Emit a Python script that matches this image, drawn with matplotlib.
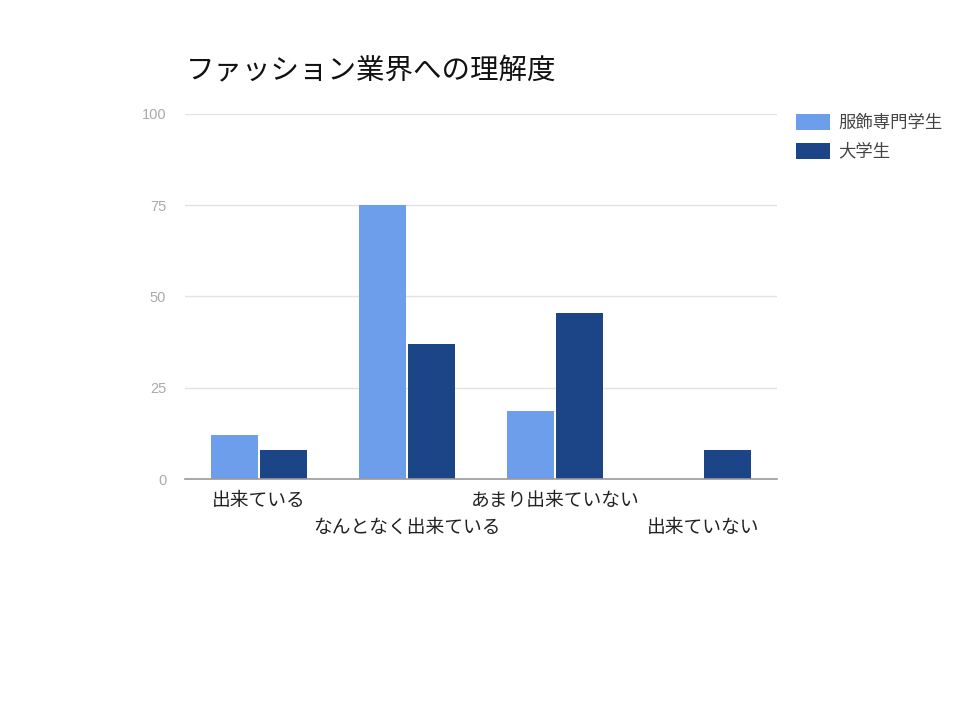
import numpy as np
import matplotlib
matplotlib.use("Agg")
import matplotlib.pyplot as plt

plt.rcParams['font.family'] = ['Noto Sans CJK JP', 'DejaVu Sans']

# --- data ---
categories = ["出来ている", "なんとなく出来ている", "あまり出来ていない", "出来ていない"]
series_names = ["服飾専門学生", "大学生"]
senmon = [12, 75, 18.6, 0]
daigaku = [8, 37, 45.6, 8]
y_ticks = [0, 25, 50, 75, 100]

colors = ["#6d9eeb", "#1c4587"]

fig = plt.figure(figsize=(9.6, 7.2), dpi=100)
ax = fig.add_axes([0.1927, 0.3347, 0.6167, 0.507])

x = np.arange(len(categories))
w = 0.32
ax.bar(x - w / 2 - 0.005, senmon, width=w, color=colors[0], label=series_names[0], zorder=3)
ax.bar(x + w / 2 + 0.005, daigaku, width=w, color=colors[1], label=series_names[1], zorder=3)

ax.set_xlim(-0.5, len(categories) - 0.5)
ax.set_ylim(0, 100)
ax.set_yticks(y_ticks)
ax.set_yticklabels([str(t) for t in y_ticks], color="#aaaaaa", fontsize=10.5,
                   family="Liberation Sans")
ax.grid(axis="y", color="#e3e3e3", linewidth=1, zorder=0)
ax.tick_params(axis="y", length=0, pad=13.5)
ax.tick_params(axis="x", length=0)

for s in ["top", "right", "left"]:
    ax.spines[s].set_visible(False)
ax.spines["bottom"].set_color("#999999")
ax.spines["bottom"].set_linewidth(1.2)
ax.spines["bottom"].set_zorder(4)

# category labels in two staggered rows
ax.set_xticks([])
for i, c in enumerate(categories):
    yy = -0.03 if i % 2 == 0 else -0.104
    ax.text(i, yy, c, transform=ax.get_xaxis_transform(), ha="center", va="top",
            fontsize=13.5, color="#222222")

fig.text(0.194, 0.902, "ファッション業界への理解度", fontsize=20.5, color="#111111",
         ha="left", va="center")

leg = ax.legend(loc="upper left", bbox_to_anchor=(1.032, 1.0), frameon=False,
                fontsize=12.5, handlelength=1.96, handleheight=1.0,
                handletextpad=0.5, labelspacing=0.62, borderpad=0, borderaxespad=0)
for t in leg.get_texts():
    t.set_color("#444444")

fig.savefig("out.png", dpi=100, facecolor="white")
